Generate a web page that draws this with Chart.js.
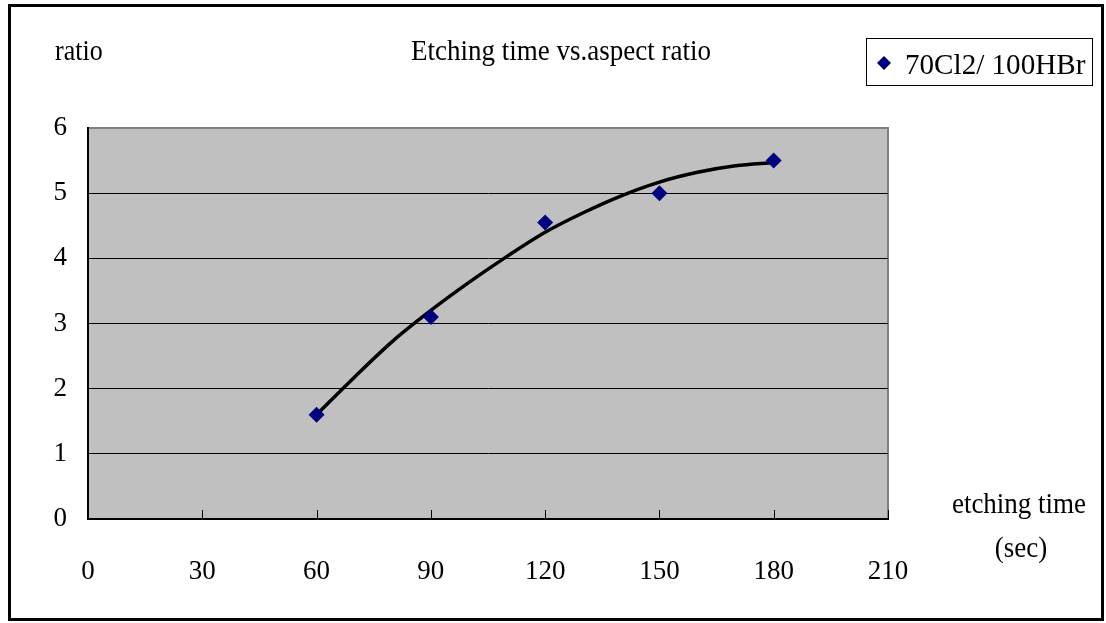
<!DOCTYPE html>
<html>
<head>
<meta charset="utf-8">
<script src="https://cdn.jsdelivr.net/npm/chart.js@4/dist/chart.umd.min.js"></script>
<style>
  html, body { margin: 0; padding: 0; background: #fff; }
  #wrap { width: 1106px; height: 623px; position: relative; }
</style>
</head>
<body>
<div id="wrap"><canvas id="etchChart" width="1106" height="623"></canvas></div>
<script>
// measured points
const times = [60, 90, 120, 150, 180];
const ratios = [1.6, 3.1, 4.55, 5.0, 5.5];

// trendline
const trendTimes = [60, 70, 80, 90, 100, 110, 120, 130, 140, 150, 160, 170, 180];
const trendRatios = [1.6, 2.18, 2.73, 3.2, 3.63, 4.03, 4.4, 4.7, 4.96, 5.17, 5.32, 5.42, 5.47];

const xTicks = [0, 30, 60, 90, 120, 150, 180, 210];
const yTicks = [0, 1, 2, 3, 4, 5, 6];

const seriesName = '70Cl2/ 100HBr';
const chartTitle = 'Etching time vs.aspect ratio';
const yTitle = 'ratio';
const xTitle = ['etching time', '(sec)'];

const serif = '"Liberation Serif", "Times New Roman", serif';

// draws text a bit taller than wide, like the original font
function tallText(c, text, x, y, size, align) {
    c.save();
    c.translate(x, y);
    c.scale(1, 1.12);
    c.font = size + 'px ' + serif;
    c.textAlign = align;
    c.textBaseline = 'middle';
    c.fillText(text, 0, 0);
    c.restore();
}

// frame, plot fill, texts and legend
const decorations = {
    id: 'decorations',
    beforeDraw(chart) {
        const c = chart.ctx;
        const a = chart.chartArea;
        c.save();
        c.fillStyle = '#fff';
        c.fillRect(0, 0, chart.width, chart.height);
        c.fillStyle = '#c0c0c0';
        c.fillRect(a.left, a.top, a.right - a.left, a.bottom - a.top);
        c.strokeStyle = '#808080';
        c.lineWidth = 2;
        c.strokeRect(a.left, a.top, a.right - a.left, a.bottom - a.top);
        c.restore();
    },
    afterDraw(chart) {
        const c = chart.ctx;
        const a = chart.chartArea;
        const xs = chart.scales.x;
        c.save();
        // x tick marks inside the plot
        c.strokeStyle = '#000';
        c.lineWidth = 1;
        xTicks.forEach(v => {
            const px = Math.round(xs.getPixelForValue(v)) + 0.5;
            c.beginPath();
            c.moveTo(px, a.bottom);
            c.lineTo(px, a.bottom - 9);
            c.stroke();
        });

        c.fillStyle = '#000';
        tallText(c, yTitle, 55, 52, 26, 'left');
        tallText(c, chartTitle, 561, 52, 27, 'center');
        tallText(c, xTitle[0], 1019, 505, 27, 'center');
        tallText(c, xTitle[1], 1021, 549, 27, 'center');

        // legend
        c.strokeStyle = '#000';
        c.lineWidth = 1;
        c.strokeRect(866.5, 38.5, 226, 47);
        c.fillStyle = '#000080';
        c.beginPath();
        c.moveTo(884, 56);
        c.lineTo(891, 63);
        c.lineTo(884, 70);
        c.lineTo(877, 63);
        c.closePath();
        c.fill();
        c.fillStyle = '#000';
        c.save();
        c.translate(905, 66);
        c.scale(1.12, 1.12);
        c.font = '26px ' + serif;
        c.textAlign = 'left';
        c.textBaseline = 'middle';
        c.fillText(seriesName, 0, 0);
        c.restore();

        // outer border
        c.lineWidth = 3;
        c.strokeRect(9.5, 5.5, 1093, 614);
        c.restore();
    }
};

new Chart(document.getElementById('etchChart'), {
    type: 'scatter',
    data: {
        datasets: [
            {
                type: 'line',
                label: 'trend',
                data: trendTimes.map((t, i) => ({ x: t, y: trendRatios[i] })),
                borderColor: '#000',
                borderWidth: 3.5,
                pointRadius: 0,
                cubicInterpolationMode: 'monotone',
                fill: false,
                order: 2
            },
            {
                label: seriesName,
                data: times.map((t, i) => ({ x: t, y: ratios[i] })),
                pointStyle: 'rectRot',
                pointRadius: 8,
                backgroundColor: '#000080',
                borderColor: '#000080',
                borderWidth: 0,
                order: 1
            }
        ]
    },
    options: {
        responsive: false,
        animation: false,
        devicePixelRatio: 1,
        layout: { padding: { left: 0, right: 218, top: 128, bottom: 0 } },
        plugins: {
            legend: { display: false },
            title: { display: false },
            tooltip: { enabled: false }
        },
        scales: {
            x: {
                type: 'linear',
                min: 0,
                max: 210,
                afterBuildTicks: s => { s.ticks = xTicks.map(v => ({ value: v })); },
                afterFit: s => { s.height = 104; },
                grid: { display: false, drawTicks: false },
                border: { color: '#000', width: 2 },
                ticks: { color: '#000', padding: 37, font: { family: serif, size: 27 }, maxRotation: 0 }
            },
            y: {
                min: 0,
                max: 6,
                afterBuildTicks: s => { s.ticks = yTicks.map(v => ({ value: v })); },
                afterFit: s => { s.width = 88; },
                grid: {
                    drawTicks: false,
                    color: ctx => (ctx.tick && ctx.tick.value === 6) ? '#808080' : '#000',
                    lineWidth: 1
                },
                border: { color: '#000', width: 2 },
                ticks: { color: '#000', padding: 21, font: { family: serif, size: 27 } }
            }
        }
    },
    plugins: [decorations]
});
</script>
</body>
</html>
